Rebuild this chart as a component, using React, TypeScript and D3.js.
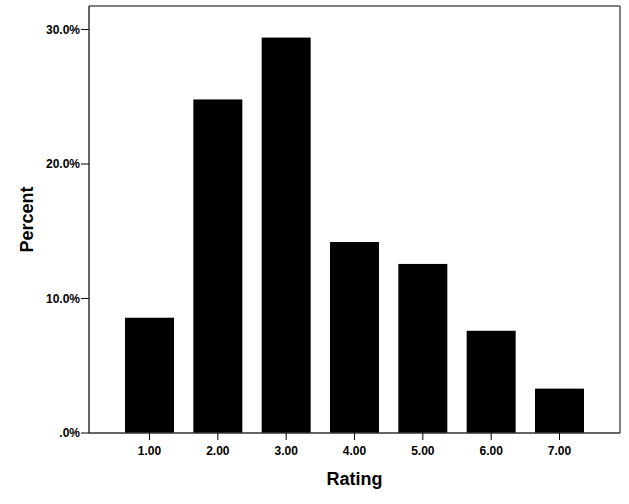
import React from "react";
import * as d3 from "d3";

const categories = ["1.00", "2.00", "3.00", "4.00", "5.00", "6.00", "7.00"];
const percents = [8.57, 24.8, 29.4, 14.2, 12.57, 7.6, 3.3];
const yTicks = [0, 10, 20, 30];
const yTickLabels = [".0%", "10.0%", "20.0%", "30.0%"];

const W = 629, H = 504;
const left = 89, right = 620, top = 6, bottom = 433;

export default function App() {
  const x = d3.scaleBand<string>().domain(categories).range([left, right]).paddingInner(0.283).paddingOuter(0.527);
  const y = d3.scaleLinear().domain([0, 30]).range([bottom, bottom - 403.5]);
  const font = "Arial, 'Liberation Sans', sans-serif";
  return (
    <svg width={W} height={H} style={{ position: "absolute", left: 0, top: 0, background: "#fff" }}>
      <rect x={0} y={0} width={W} height={H} fill="#fff" />
      {/* frame */}
      <line x1={left} y1={top} x2={right} y2={top} stroke="#808080" strokeWidth={2} />
      <line x1={right} y1={top} x2={right} y2={bottom} stroke="#555" strokeWidth={1.5} />
      {categories.map((c, i) => (
        <rect key={c} x={x(c)} y={y(percents[i])} width={x.bandwidth()} height={bottom - y(percents[i])} fill="#000" />
      ))}
      <line x1={left} y1={top} x2={left} y2={bottom} stroke="#333" strokeWidth={1.5} />
      <line x1={left} y1={bottom} x2={right} y2={bottom} stroke="#333" strokeWidth={1.5} />
      {yTicks.map((t, i) => (
        <g key={t}>
          <line x1={left - 8} x2={left} y1={y(t)} y2={y(t)} stroke="#000" strokeWidth={1} />
          <text x={left - 9} y={y(t)} dy="0.35em" textAnchor="end" fontFamily={font} fontWeight="bold" fontSize={12} fill="#000">{yTickLabels[i]}</text>
        </g>
      ))}
      {categories.map((c) => {
        const cx = (x(c) as number) + x.bandwidth() / 2;
        return (
          <g key={c}>
            <line x1={cx} x2={cx} y1={bottom} y2={bottom + 7} stroke="#000" strokeWidth={1} />
            <text x={cx} y={455} textAnchor="middle" fontFamily={font} fontWeight="bold" fontSize={12} fill="#000">{c}</text>
          </g>
        );
      })}
      <text x={(left + right) / 2} y={485} textAnchor="middle" fontFamily={font} fontWeight="bold" fontSize={18} fill="#000">Rating</text>
      <text transform={`translate(33, ${(top + bottom) / 2}) rotate(-90)`} textAnchor="middle" fontFamily={font} fontWeight="bold" fontSize={18} fill="#000">Percent</text>
    </svg>
  );
}
